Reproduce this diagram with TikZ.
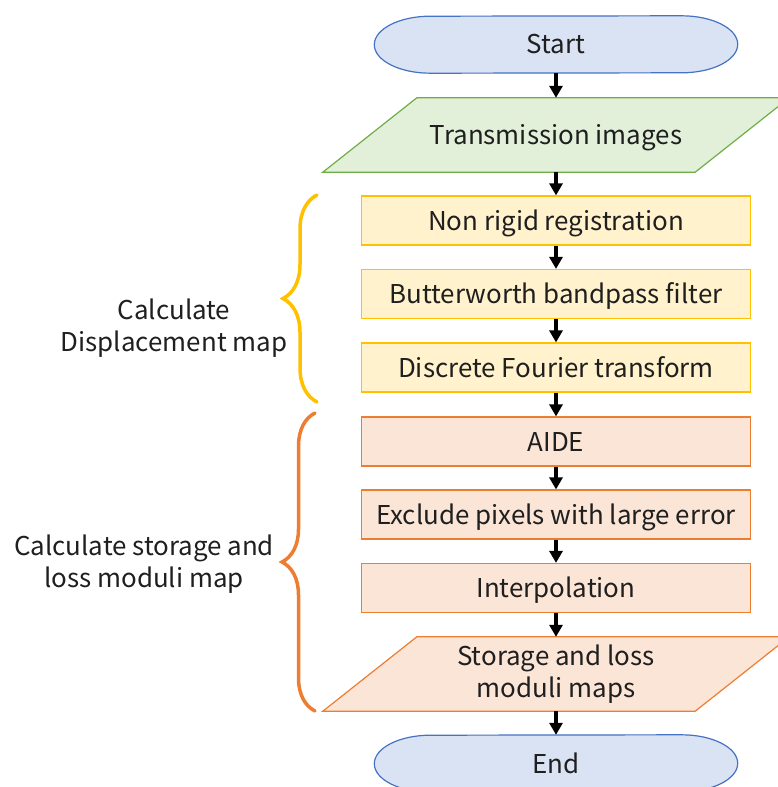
\documentclass[tikz,border=0pt]{standalone}
\usepackage{fontspec}
\setmainfont{Noto Sans CJK JP}
\usetikzlibrary{arrows.meta,positioning,calc,decorations.pathreplacing,backgrounds}

\definecolor{termfill}{HTML}{DAE3F3}
\definecolor{termline}{HTML}{4472C4}
\definecolor{datafill}{HTML}{E2F0D9}
\definecolor{dataline}{HTML}{70AD47}
\definecolor{dispfill}{HTML}{FFF2CC}
\definecolor{displine}{HTML}{FFC000}
\definecolor{modfill}{HTML}{FBE5D6}
\definecolor{modline}{HTML}{ED7D31}
\definecolor{txt}{HTML}{1F1F1F}

\begin{document}
\begin{tikzpicture}[x=1bp, y=-1bp,
  every node/.style={text=txt, font=\fontsize{26}{32}\selectfont},
  line/.style={text height=19bp, text depth=0pt},
  term/.style={rectangle, minimum width=363bp, minimum height=57bp, line},
  termshape/.style={fill=termfill, draw=termline, line width=1.2bp},
  data/.style={rectangle, minimum width=372bp, minimum height=74bp, align=center},
  disp/.style={rectangle, minimum width=389bp, minimum height=49bp, line,
    fill=dispfill, draw=displine, line width=1.2bp},
  modu/.style={rectangle, minimum width=389bp, minimum height=49bp, line,
    fill=modfill, draw=modline, line width=1.2bp},
  flow/.style={-{Triangle[width=13bp,length=12bp]}, line width=3.6bp},
  grp/.style={decorate, decoration={brace, amplitude=#1}, line width=3.5bp, line cap=round}
]
  \useasboundingbox (0,0) rectangle (778,787);

  % flow chart, top to bottom
  \node (start) [term] at (556,44.5) {Start};
  \node (trans) [data, line] at (556,135) {Transmission images};
  \node (reg) [disp] at (556,220.5) {Non rigid registration};
  \node (bpf) [disp] at (556,294) {Butterworth bandpass filter};
  \node (dft) [disp] at (556,367.5) {Discrete Fourier transform};
  \node (aide) [modu] at (556,441.5) {AIDE};
  \node (excl) [modu] at (556,514.5) {Exclude pixels with large error};
  \node (interp) [modu] at (556,588) {Interpolation};
  \node (maps) [data] at (556,674) {Storage and loss\\moduli maps};
  \node (end) [term] at (556,763.5) {End};

  \begin{scope}[on background layer]
    % terminators with elliptic ends
    \foreach \t in {start,end}
      \draw[termshape] ([xshift=-56bp]\t.north east)
        arc[start angle=90, end angle=-90, x radius=56bp, y radius=28.5bp]
        -- ([xshift=56bp]\t.south west)
        arc[start angle=270, end angle=90, x radius=56bp, y radius=28.5bp] -- cycle;
    % slanted data boxes
    \draw[fill=datafill, draw=dataline, line width=1.2bp]
      ([xshift=47bp]trans.north west) -- ([xshift=47bp]trans.north east)
      -- ([xshift=-47bp]trans.south east) -- ([xshift=-47bp]trans.south west) -- cycle;
    \draw[fill=modfill, draw=modline, line width=1.2bp]
      ([xshift=47bp]maps.north west) -- ([xshift=47bp]maps.north east)
      -- ([xshift=-47bp]maps.south east) -- ([xshift=-47bp]maps.south west) -- cycle;
  \end{scope}

  \draw[flow] (start) -- (trans);
  \draw[flow] (trans) -- (reg);
  \draw[flow] (reg) -- (bpf);
  \draw[flow] (bpf) -- (dft);
  \draw[flow] (dft) -- (aide);
  \draw[flow] (aide) -- (excl);
  \draw[flow] (excl) -- (interp);
  \draw[flow] (interp) -- (maps);
  \draw[flow] (maps) -- (end);

  % braces for the two stages
  \coordinate (b1top) at (317,195);
  \coordinate (b1bot) at (317,402);
  \coordinate (b2top) at (315,413);
  \coordinate (b2bot) at (315,711);
  \draw[grp=34bp, displine] (b1bot) -- (b1top);
  \draw[grp=33bp, modline] (b2bot) -- (b2top);

  \node (disp lbl) [align=center] at (174,328) {Calculate\\Displacement map};
  \node (mod lbl) [align=center] at (144,564) {Calculate storage and\\loss moduli map};
\end{tikzpicture}
\end{document}
